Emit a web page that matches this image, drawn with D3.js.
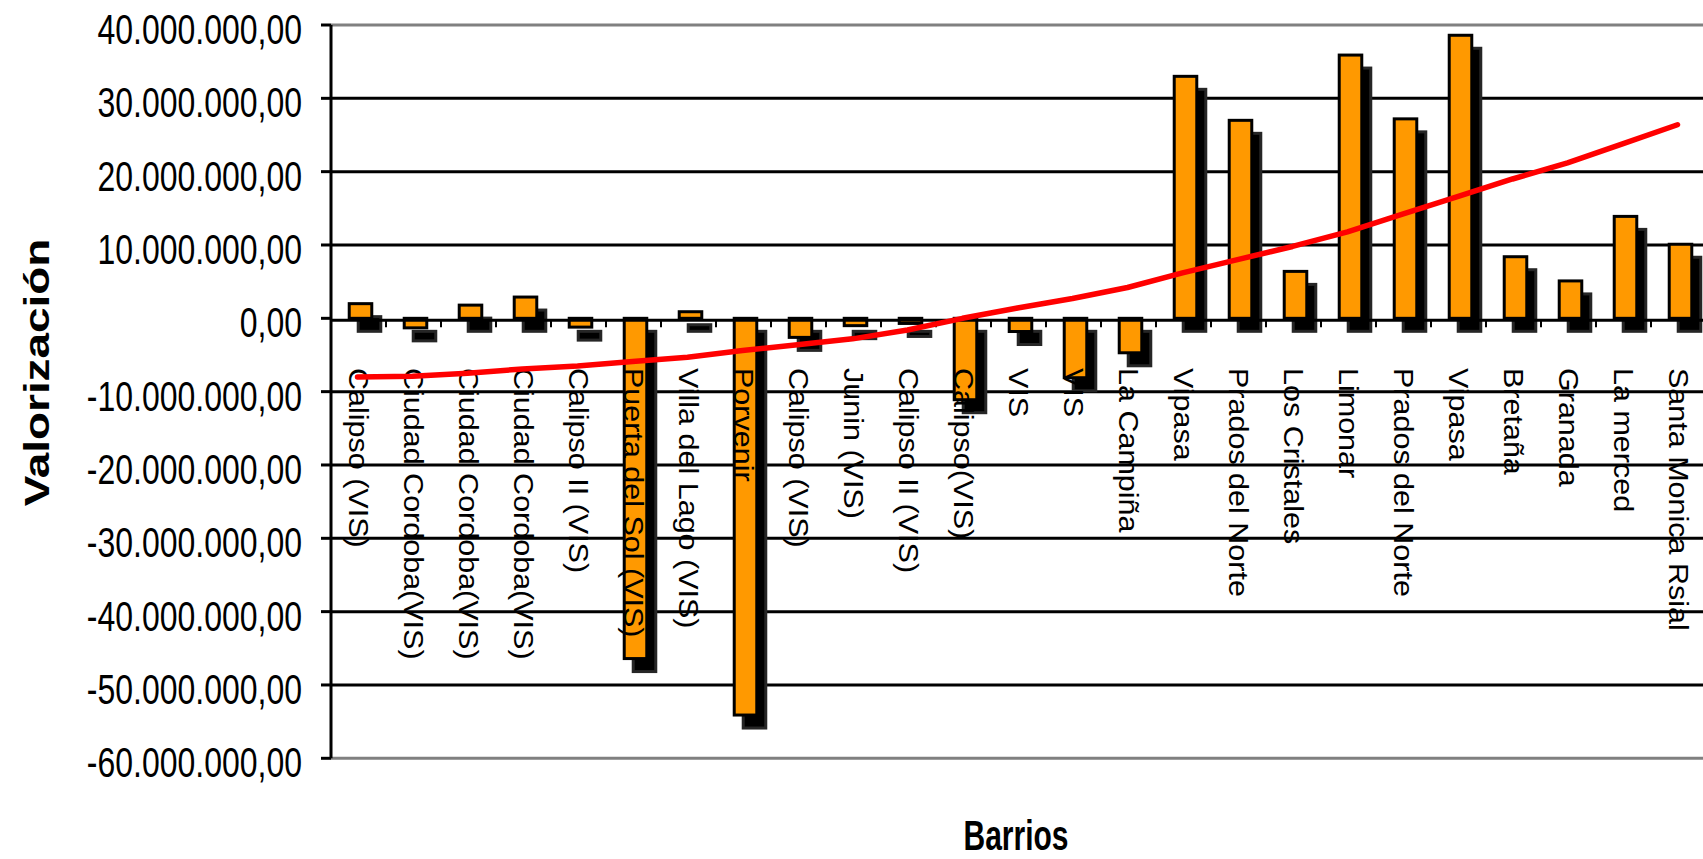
<!DOCTYPE html>
<html>
<head>
<meta charset="utf-8">
<script src="https://cdn.jsdelivr.net/npm/d3@7"></script>
<style>
html, body { margin: 0; padding: 0; background: #ffffff; }
svg { display: block; }
</style>
</head>
<body>
<svg id="chart" width="1703" height="859"></svg>
<script>
// ---------- DATA ----------
const categories = [
  "Calipso (VIS)", "Ciudad Cordoba(VIS)", "Ciudad Cordoba(VIS)", "Ciudad Cordoba(VIS)",
  "Calipso II (VIS)", "Puerta del Sol (VIS)", "Villa del Lago (VIS)", "Porvenir",
  "Calipso (VIS)", "Junin (VIS)", "Calipso II (VIS)", "Calipso(VIS)", "VIS", "VIS",
  "La Campiña", "Vipasa", "Prados del Norte", "Los Cristales", "Limonar",
  "Prados del Norte", "Vipasa", "Bretaña", "Granada", "La merced", "Santa Monica Rsial"
];
const valorizacion = [
  2000000, -1300000, 1800000, 2900000, -1200000, -46400000, 900000, -54100000,
  -2600000, -1000000, -700000, -11100000, -1800000, -8100000, -4700000,
  33000000, 27000000, 6400000, 35900000, 27200000, 38600000, 8400000, 5100000,
  13900000, 10100000
];
const tendencia = [
  -8000000, -7900000, -7500000, -6900000, -6500000, -5900000, -5300000, -4400000,
  -3600000, -2800000, -1600000, 0, 1400000, 2700000, 4200000, 6200000, 8000000,
  9800000, 11800000, 14200000, 16600000, 19000000, 21200000, 23800000, 26400000
];
const yTickValues = [40000000, 30000000, 20000000, 10000000, 0, -10000000, -20000000,
  -30000000, -40000000, -50000000, -60000000];
const xTitle = "Barrios";
const yTitle = "Valorización";

// ---------- LAYOUT ----------
const W = 1703, H = 859;
const svg = d3.select("#chart");
const FONT = "'Liberation Sans', Arial, Helvetica, sans-serif";

const plotLeft = 331, plotTop = 25, plotBottom = 758.3;
const y = d3.scaleLinear().domain([-60000000, 40000000]).range([plotBottom, plotTop]);
const x = d3.scaleBand().domain(d3.range(categories.length)).range([333, 1708]).padding(0);
const cx = i => x(i) + x.bandwidth() / 2;
const barW = x.bandwidth() * 0.41;
const shadowDx = 9, shadowDy = 13;

const locale = d3.formatLocale({decimal: ",", thousands: ".", grouping: [3], currency: ["", ""], minus: "-"});
const fmt = locale.format(",.2f");

svg.append("rect").attr("width", W).attr("height", H).attr("fill", "#ffffff");

// gridlines
svg.append("g").selectAll("line")
  .data(yTickValues.filter(v => v !== 0))
  .join("line")
  .attr("x1", plotLeft).attr("x2", W)
  .attr("y1", d => y(d)).attr("y2", d => y(d))
  .attr("stroke", d => (d === 40000000 || d === -60000000) ? "#808080" : "#000000")
  .attr("stroke-width", 3);

// y axis ticks
svg.append("g").selectAll("line")
  .data(yTickValues)
  .join("line")
  .attr("x1", plotLeft - 10).attr("x2", plotLeft)
  .attr("y1", d => y(d)).attr("y2", d => y(d))
  .attr("stroke", "#000").attr("stroke-width", 3);

// y axis line
svg.append("line")
  .attr("x1", plotLeft).attr("x2", plotLeft)
  .attr("y1", plotTop).attr("y2", plotBottom)
  .attr("stroke", "#000").attr("stroke-width", 3);

// y tick labels
svg.append("g").selectAll("text")
  .data(yTickValues)
  .join("text")
  .attr("transform", d => `translate(302,${y(d) + 19}) scale(1,1.33)`)
  .attr("text-anchor", "end")
  .attr("font-family", FONT)
  .attr("font-size", 32)
  .attr("fill", "#000")
  .text(d => fmt(d));

// shadows
svg.append("g").selectAll("rect")
  .data(valorizacion)
  .join("rect")
  .attr("x", (d, i) => cx(i) - barW / 2 + shadowDx)
  .attr("y", d => Math.min(y(d), y(0)) + shadowDy)
  .attr("width", barW)
  .attr("height", d => Math.abs(y(d) - y(0)))
  .attr("fill", "#000")
  .attr("stroke", "#262626")
  .attr("stroke-width", 3);

// bars
svg.append("g").selectAll("rect")
  .data(valorizacion)
  .join("rect")
  .attr("x", (d, i) => cx(i) - barW / 2)
  .attr("y", d => Math.min(y(d), y(0)))
  .attr("width", barW)
  .attr("height", d => Math.abs(y(d) - y(0)))
  .attr("fill", "#FF9900")
  .attr("stroke", "#000")
  .attr("stroke-width", 3);

// zero line
svg.append("line")
  .attr("x1", plotLeft).attr("x2", W)
  .attr("y1", y(0) + 2).attr("y2", y(0) + 2)
  .attr("stroke", "#000").attr("stroke-width", 3);

// category ticks
svg.append("g").selectAll("line")
  .data(d3.range(1, categories.length))
  .join("line")
  .attr("x1", i => x(i) - 2).attr("x2", i => x(i) - 2)
  .attr("y1", y(0) + 2).attr("y2", y(0) + 9)
  .attr("stroke", "#000").attr("stroke-width", 2);

// category labels
svg.append("g").selectAll("text")
  .data(categories)
  .join("text")
  .attr("transform", (d, i) => `translate(${cx(i) - 2},368) rotate(90) scale(1.13,1)`)
  .attr("dy", "0.36em")
  .attr("text-anchor", "start")
  .attr("font-family", FONT)
  .attr("font-size", 27)
  .attr("fill", "#000")
  .text(d => d);

// trend line
const line = d3.line().x((d, i) => cx(i) - 3).y(d => y(d));
svg.append("path")
  .datum(tendencia)
  .attr("d", line)
  .attr("fill", "none")
  .attr("stroke", "#FF0000")
  .attr("stroke-width", 5.5)
  .attr("stroke-linecap", "round")
  .attr("stroke-linejoin", "round");

// axis titles
svg.append("text")
  .attr("transform", "translate(1016,850) scale(1,1.4)")
  .attr("text-anchor", "middle")
  .attr("font-family", FONT)
  .attr("font-weight", "bold")
  .attr("font-size", 30)
  .attr("fill", "#000")
  .text(xTitle);

svg.append("text")
  .attr("transform", "translate(49,372.5) rotate(-90) scale(1.31,1)")
  .attr("text-anchor", "middle")
  .attr("font-family", FONT)
  .attr("font-weight", "bold")
  .attr("font-size", 35)
  .attr("fill", "#000")
  .text(yTitle);
</script>
</body>
</html>
